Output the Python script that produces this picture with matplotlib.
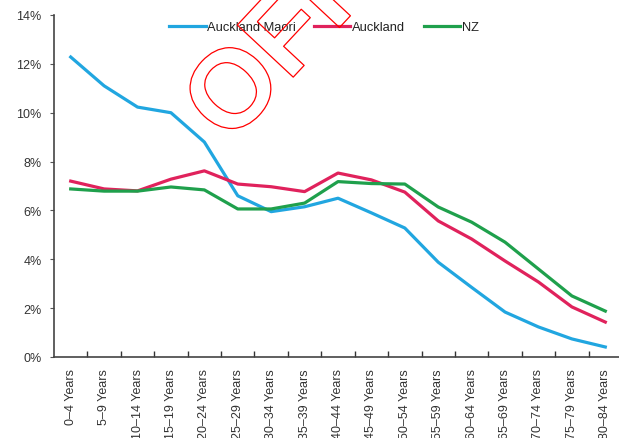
import matplotlib
matplotlib.use("Agg")
import matplotlib.pyplot as plt
import matplotlib.patheffects as pe
from matplotlib.ticker import FuncFormatter, MultipleLocator, FixedLocator

plt.rcParams['font.family'] = ['Liberation Sans', 'DejaVu Sans']

age_groups = ["0–4 Years", "5–9 Years", "10–14 Years", "15–19 Years", "20–24 Years",
              "25–29 Years", "30–34 Years", "35–39 Years", "40–44 Years", "45–49 Years",
              "50–54 Years", "55–59 Years", "60–64 Years", "65–69 Years", "70–74 Years",
              "75–79 Years", "80–84 Years"]

auckland_maori = [12.28, 11.10, 10.23, 10.00, 8.80, 6.60, 5.95, 6.15, 6.50, 5.90,
                  5.28, 3.88, 2.85, 1.84, 1.23, 0.74, 0.41]
auckland = [7.20, 6.88, 6.80, 7.28, 7.62, 7.08, 6.97, 6.77, 7.53, 7.25,
            6.75, 5.57, 4.83, 3.93, 3.07, 2.05, 1.43]
nz = [6.88, 6.79, 6.79, 6.96, 6.84, 6.06, 6.06, 6.30, 7.18, 7.10,
      7.08, 6.14, 5.52, 4.70, 3.60, 2.50, 1.88]

series = [("Auckland Maori", auckland_maori, "#21a6e0"),
          ("Auckland", auckland, "#e0225c"),
          ("NZ", nz, "#1fa04c")]

W, H = 619, 439
fig = plt.figure(figsize=(W / 100, H / 100), dpi=100)
left, right, bottom, top = 54, 622, 358, 16
ax = fig.add_axes([left / W, 1 - bottom / H, (right - left) / W, (bottom - top) / H])

x = list(range(len(age_groups)))
for name, vals, col in series:
    ax.plot(x, vals, color=col, lw=2.3, label=name, solid_joinstyle='round')

ax.set_xlim(-0.5, len(age_groups) - 0.5)
ax.set_ylim(0, 14)

ax.yaxis.set_major_locator(MultipleLocator(2))
ax.yaxis.set_major_formatter(FuncFormatter(lambda v, p: f"{v:.0f}%"))
ax.tick_params(axis='y', direction='out', length=3, width=0.8, colors='#555555',
               labelcolor='#333333', labelsize=9, pad=6)

ax.set_xticks(x)
ax.set_xticklabels(age_groups, rotation=90, fontsize=9, color='#333333')
ax.tick_params(axis='x', which='major', length=0, pad=8)
ax.xaxis.set_minor_locator(FixedLocator([i + 0.5 for i in range(len(age_groups) - 1)]))
ax.tick_params(axis='x', which='minor', direction='in', length=4, width=1, color='#333333')

for s in ['top', 'right']:
    ax.spines[s].set_visible(False)
for s in ['left', 'bottom']:
    ax.spines[s].set_color('#444444')
    ax.spines[s].set_linewidth(1.2)

fig.legend(loc='center', bbox_to_anchor=(324 / W, 1 - 28 / H), ncol=3, frameon=False,
           fontsize=9.3, handlelength=2.8, handletextpad=0.15, columnspacing=1.4,
           labelcolor='#222222')

# outlined stamp text
fig.text(208 / W, 1 - 127 / H, "OFFICIAL", rotation=47, fontsize=80, fontweight='bold',
         family='Liberation Sans', color=(1, 1, 1, 0), ha='left', va='center',
         rotation_mode='anchor', zorder=10,
         path_effects=[pe.Stroke(linewidth=0.9, foreground='red')])

fig.savefig("out.png", dpi=100)
